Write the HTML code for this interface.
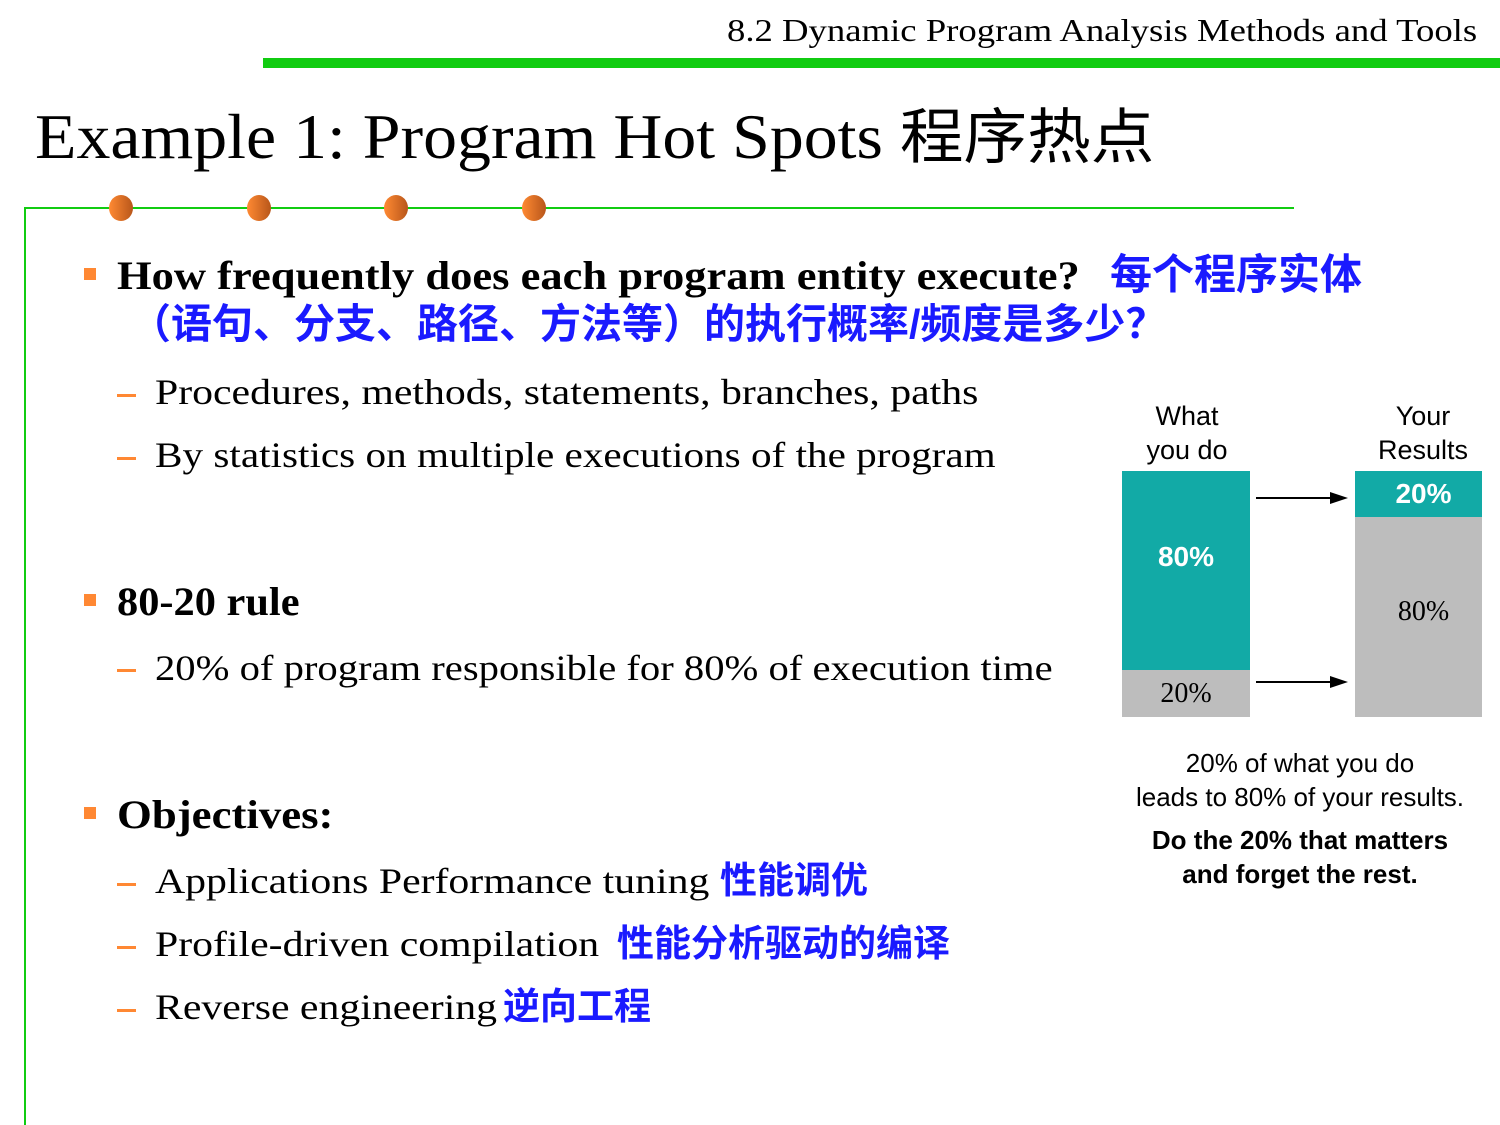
<!DOCTYPE html>
<html><head><meta charset="utf-8"><style>
body{margin:0;width:1500px;height:1125px;background:#fff;position:relative;overflow:hidden;font-family:"Liberation Serif","Noto Serif CJK SC",serif;}
.a{position:absolute;white-space:nowrap;line-height:1;transform-origin:left top;}
.cn{font-family:"Liberation Sans","Noto Sans CJK SC",sans-serif;font-weight:bold;color:#1a1aff;}
.sq{position:absolute;width:12px;height:12px;background:#ff8833;}
.dash{position:absolute;width:19px;height:3px;background:#ff8833;}
.dot{position:absolute;width:24px;height:26px;border-radius:50%;background:linear-gradient(90deg,#ff8a33,#b8561a);}
.s{font-family:"Liberation Sans","DejaVu Sans",sans-serif;}
</style></head><body>
<div class="a" style="left:727px;top:14px;font-size:32px;transform:scaleX(1.147);">8.2 Dynamic Program Analysis Methods and Tools</div>
<div class="a" style="left:263px;top:58px;width:1237px;height:10px;background:#11cc11;"></div>
<div class="a" style="left:35px;top:103px;font-size:64px;transform:scaleX(1.06);">Example 1: Program Hot Spots <span style="font-family:'Noto Sans CJK SC',sans-serif;font-size:60px;">程序热点</span></div>
<div class="a" style="left:24px;top:207px;width:1270px;height:2px;background:#11cc11;"></div>
<div class="a" style="left:24px;top:207px;width:2px;height:918px;background:#11cc11;"></div>
<div class="dot" style="left:109px;top:195px"></div>
<div class="dot" style="left:247px;top:195px"></div>
<div class="dot" style="left:384px;top:195px"></div>
<div class="dot" style="left:522px;top:195px"></div>

<div class="sq" style="left:84px;top:268px"></div>
<div class="a" style="left:117px;top:256px;font-size:40px;font-weight:bold;transform:scaleX(1.113);">How frequently does each program entity execute?</div>
<div class="a cn" style="left:1110px;top:254px;font-size:42px;">每个程序实体</div>
<div class="a cn" style="left:130px;top:304px;font-size:41px;">（语句、分支、路径、方法等）的执行概率/频度是多少？</div>
<div class="dash" style="left:117px;top:394px"></div>
<div class="a" style="left:155px;top:374px;font-size:36px;transform:scaleX(1.16);">Procedures, methods, statements, branches, paths</div>
<div class="dash" style="left:117px;top:457px"></div>
<div class="a" style="left:155px;top:437px;font-size:36px;transform:scaleX(1.144);">By statistics on multiple executions of the program</div>

<div class="sq" style="left:84px;top:594px"></div>
<div class="a" style="left:117px;top:582px;font-size:40px;font-weight:bold;transform:scaleX(1.06);">80-20 rule</div>
<div class="dash" style="left:117px;top:669px"></div>
<div class="a" style="left:155px;top:650px;font-size:36px;transform:scaleX(1.128);">20% of program responsible for 80% of execution time</div>

<div class="sq" style="left:84px;top:807px"></div>
<div class="a" style="left:117px;top:795px;font-size:40px;font-weight:bold;transform:scaleX(1.12);">Objectives:</div>
<div class="dash" style="left:117px;top:883px"></div>
<div class="a" style="left:155px;top:863px;font-size:36px;transform:scaleX(1.16);">Applications Performance tuning</div>
<div class="a cn" style="left:720px;top:862px;font-size:37px;">性能调优</div>
<div class="dash" style="left:117px;top:946px"></div>
<div class="a" style="left:155px;top:926px;font-size:36px;transform:scaleX(1.16);">Profile-driven compilation</div>
<div class="a cn" style="left:617px;top:925px;font-size:37px;">性能分析驱动的编译</div>
<div class="dash" style="left:117px;top:1009px"></div>
<div class="a" style="left:155px;top:989px;font-size:36px;transform:scaleX(1.16);">Reverse engineering</div>
<div class="a cn" style="left:503px;top:988px;font-size:37px;">逆向工程</div>

<!-- chart -->
<div class="a s" style="left:1122px;width:130px;text-align:center;top:399px;font-size:27px;line-height:34px;">What<br>you do</div>
<div class="a s" style="left:1355px;width:136px;text-align:center;top:399px;font-size:27px;line-height:34px;">Your<br>Results</div>
<div class="a" style="left:1122px;top:471px;width:128px;height:199px;background:#12aaa6;"></div>
<div class="a" style="left:1122px;top:670px;width:128px;height:47px;background:#bdbdbd;"></div>
<div class="a" style="left:1355px;top:471px;width:127px;height:46px;background:#12aaa6;"></div>
<div class="a" style="left:1355px;top:517px;width:127px;height:200px;background:#bdbdbd;"></div>
<div class="a s" style="left:1122px;width:128px;text-align:center;top:543px;font-size:28px;font-weight:bold;color:#fff;">80%</div>
<div class="a" style="left:1122px;width:128px;text-align:center;top:680px;font-size:28px;">20%</div>
<div class="a s" style="left:1355px;width:137px;text-align:center;top:480px;font-size:28px;font-weight:bold;color:#fff;">20%</div>
<div class="a" style="left:1355px;width:137px;text-align:center;top:598px;font-size:28px;">80%</div>
<svg class="a" style="left:0;top:0" width="1500" height="1125">
<line x1="1256" y1="498" x2="1335" y2="498" stroke="#000" stroke-width="2"/><polygon points="1348,498 1330,492 1330,504" fill="#000"/>
<line x1="1256" y1="682" x2="1335" y2="682" stroke="#000" stroke-width="2"/><polygon points="1348,682 1330,676 1330,688" fill="#000"/>
</svg>
<div class="a s" style="left:1100px;width:400px;text-align:center;top:746px;font-size:26px;line-height:34px;">20% of what you do<br>leads to 80% of your results.</div>
<div class="a s" style="left:1100px;width:400px;text-align:center;top:823px;font-size:26px;line-height:34px;font-weight:bold;">Do the 20% that matters<br>and forget the rest.</div>
</body></html>
